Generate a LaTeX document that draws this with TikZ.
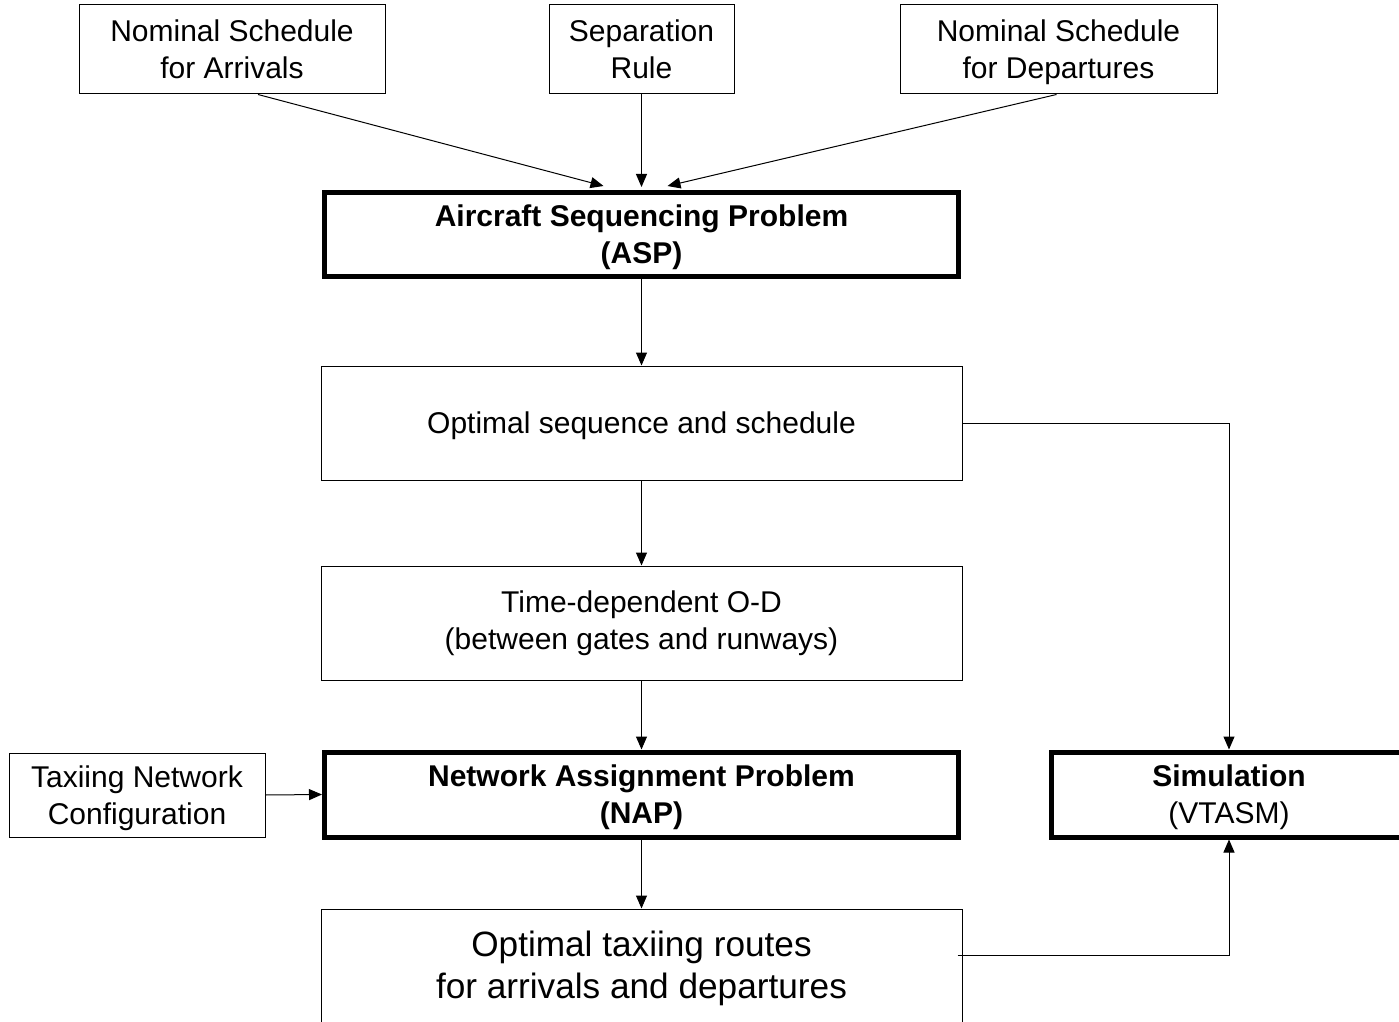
\documentclass[tikz,border=0pt]{standalone}
\usepackage{fontspec}
\setmainfont{Liberation Sans}
\usetikzlibrary{arrows.meta,calc}

\begin{document}
\begin{tikzpicture}[x=0.5pt,y=-0.5pt,
  box/.style={draw, line width=0.5pt, inner sep=0pt, align=center,
              font=\fontsize{15}{18.5}\selectfont},
  heavy/.style={box, line width=2.5pt},
  flat/.style={text depth=0pt},
  bigtext/.style={font=\fontsize{17.6}{21}\selectfont},
  link/.style={line width=0.5pt, -{Triangle[length=6.5pt,width=5.5pt]}},
]
\useasboundingbox (0,0) rectangle (1399,1022);

% inputs
\node[box, minimum width=153pt, minimum height=44.5pt] (arr) at (232,49.5)
  {Nominal Schedule\\for Arrivals};
\node[box, minimum width=92.5pt, minimum height=44.5pt] (sep) at (641.5,49.5)
  {Separation\\Rule};
\node[box, flat, minimum width=158.5pt, minimum height=44.5pt] (dep) at (1058.5,49.5)
  {Nominal Schedule\\for Departures};

% sequencing stage
\node[heavy, flat, minimum width=317pt, minimum height=42pt] (asp) at (641.5,234.5)
  {\textbf{Aircraft Sequencing Problem}\\\textbf{(ASP)}};
\node[box, flat, minimum width=320.5pt, minimum height=57pt] (seq) at (641.5,423)
  {Optimal sequence and schedule};
\node[box, minimum width=320.5pt, minimum height=57pt] (td) at (641.5,623)
  {Time-dependent O-D\\(between gates and runways)};

% assignment stage
\node[heavy, flat, minimum width=317pt, minimum height=42.5pt] (nap) at (641.5,794.5)
  {\textbf{Network Assignment Problem}\\\textbf{(NAP)}};
\node[box, flat, minimum width=128pt, minimum height=42pt] (tax) at (137,795)
  {Taxiing Network\\Configuration};
\node[heavy, flat, minimum width=178pt, minimum height=42.5pt] (sim) at (1229,794.5)
  {\textbf{Simulation}\\(VTASM)};
\node[box, bigtext, minimum width=320.5pt, minimum height=59pt] (bot) at (641.5,968)
  {Optimal taxiing routes\\for arrivals and departures};

% connectors
\draw[link] ($(arr.south)+(26,0)$) -- ($(asp.north)+(-38,-4)$);
\draw[link] (sep.south) -- ($(asp.north)+(0,-3)$);
\draw[link] ($(dep.south)+(-2,0)$) -- ($(asp.north)+(26,-4)$);
\draw[link] (asp.south) -- (seq.north);
\draw[link] (seq.south) -- (td.north);
\draw[link] (td.south) -- (nap.north);
\draw[link] (tax.east) -- (nap.west);
\draw[link] (nap.south) -- (bot.north);
\draw[link] (seq.east) -| (sim.north);
\coordinate (botout) at ($(bot.east)+(-5,-13)$);
\draw[link] (botout) -| (sim.south);
\end{tikzpicture}
\end{document}
